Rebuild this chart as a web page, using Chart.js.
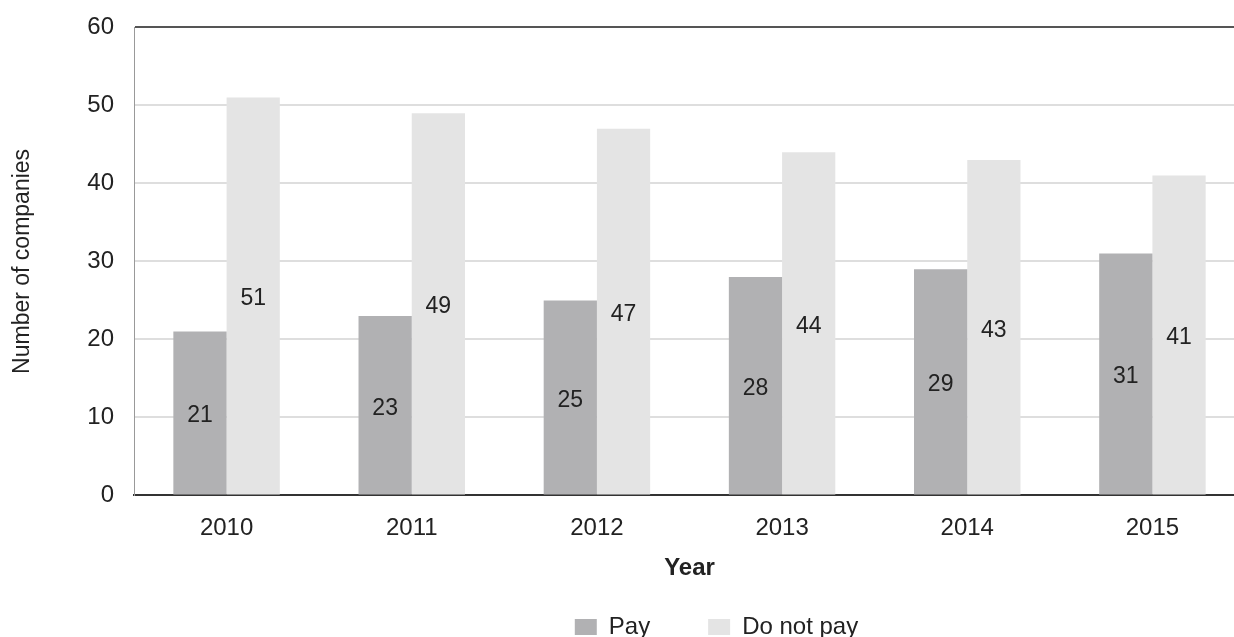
<!DOCTYPE html>
<html>
<head>
<meta charset="utf-8">
<script src="https://cdn.jsdelivr.net/npm/chart.js@4"></script>
<style>
  html, body { margin: 0; padding: 0; background: #fff; overflow: hidden; }
  #wrap { width: 1245px; height: 644px; margin-top: -7px; }
</style>
</head>
<body>
<div id="wrap"><canvas id="c"></canvas></div>
<script>
// data
const years = ['2010', '2011', '2012', '2013', '2014', '2015'];
const pay = [21, 23, 25, 28, 29, 31];
const notPay = [51, 49, 47, 44, 43, 41];

const FONT = '"Liberation Sans", Arial, sans-serif';
const TXT = '#222';
const SIZE = 24;

// value labels in the middle of each bar
const barLabels = {
    id: 'barLabels',
    afterDatasetsDraw(chart) {
        const ctx = chart.ctx;
        ctx.save();
        ctx.font = (SIZE - 1) + 'px ' + FONT;
        ctx.fillStyle = TXT;
        ctx.textAlign = 'center';
        ctx.textBaseline = 'middle';
        chart.data.datasets.forEach((ds, i) => {
            chart.getDatasetMeta(i).data.forEach((bar, j) => {
                ctx.fillText(ds.data[j], bar.x, (bar.y + bar.base) / 2 + 3);
            });
        });
        ctx.restore();
    }
};

// legend sits a little right of the plot centre in the original
const legendShift = {
    id: 'legendShift',
    afterLayout(chart) {
        chart.legend.left += 27;
        chart.legend.right += 27;
    }
};

new Chart(document.getElementById('c'), {
    type: 'bar',
    data: {
        labels: years,
        datasets: [
            { label: 'Pay', data: pay, backgroundColor: '#b1b1b3' },
            { label: 'Do not pay', data: notPay, backgroundColor: '#e4e4e4' }
        ]
    },
    options: {
        responsive: true,
        maintainAspectRatio: false,
        animation: false,
        categoryPercentage: 0.575,
        barPercentage: 1,
        layout: { padding: { top: 0, left: 0, right: 0, bottom: -12 } },
        plugins: {
            legend: {
                position: 'bottom',
                fullSize: false,
                labels: {
                    boxWidth: 22,
                    boxHeight: 16,
                    padding: 10,
                    color: TXT,
                    font: { family: FONT, size: SIZE },
                    // wider gap after the first item, as in the original
                    generateLabels(chart) {
                        const items = Chart.defaults.plugins.legend.labels.generateLabels(chart);
                        items[0].text += '\u2003\u2003';
                        return items;
                    }
                }
            },
            tooltip: { enabled: false }
        },
        scales: {
            x: {
                grid: { display: false },
                border: { color: '#333', width: 2 },
                ticks: { color: TXT, font: { family: FONT, size: SIZE }, padding: 11 },
                title: {
                    display: true,
                    text: 'Year',
                    color: TXT,
                    font: { family: FONT, size: SIZE, weight: 'bold' },
                    padding: { top: 0, bottom: 22 }
                }
            },
            y: {
                min: 0,
                max: 60,
                z: 1,
                afterFit(scale) { scale.width = 134; },
                grid: {
                    color: ctx => ctx.tick && ctx.tick.value === 60 ? '#555' : 'rgba(0,0,0,0.13)',
                    lineWidth: 2,
                    drawTicks: false
                },
                border: { color: '#999', width: 1 },
                ticks: {
                    stepSize: 10,
                    color: TXT,
                    padding: 20,
                    font: { family: FONT, size: SIZE }
                },
                title: {
                    display: true,
                    text: 'Number of companies',
                    color: TXT,
                    font: { family: FONT, size: SIZE - 1 },
                    padding: { top: 9, bottom: 0 }
                }
            }
        }
    },
    plugins: [barLabels, legendShift]
});
</script>
</body>
</html>
